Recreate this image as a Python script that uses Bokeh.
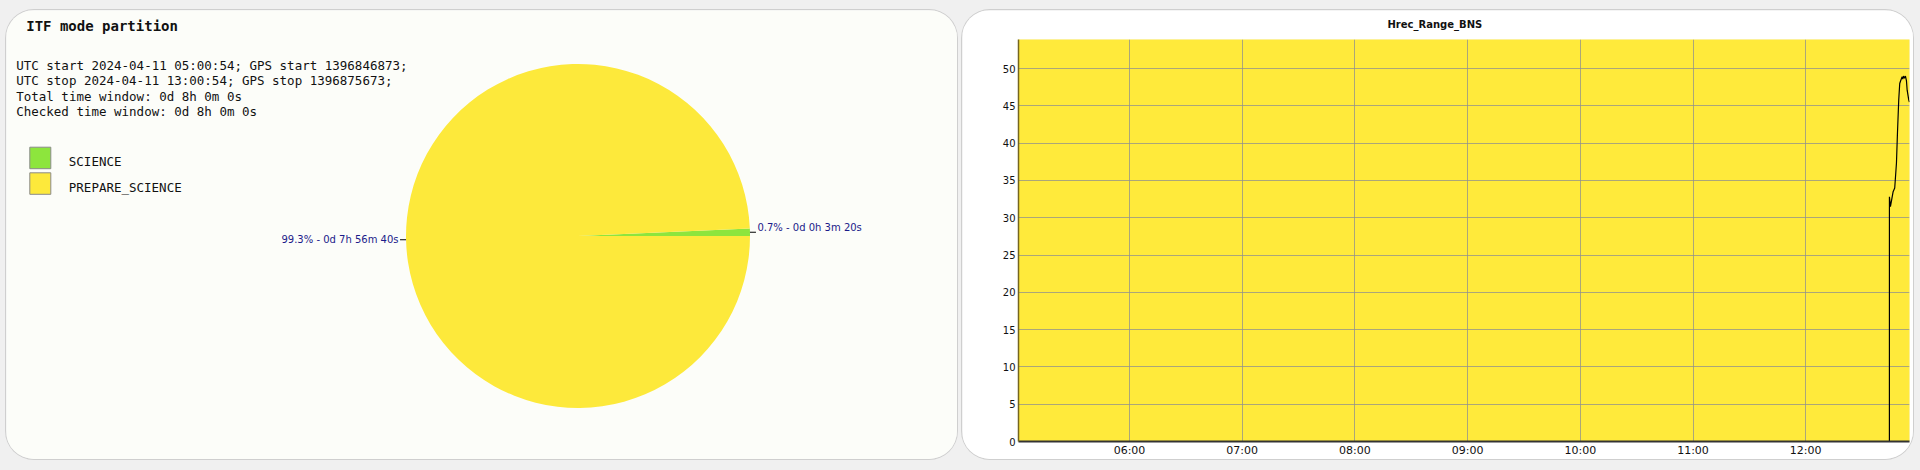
import math
import pandas as pd
from bokeh.plotting import figure
from bokeh.models import (Range1d, FixedTicker, DatetimeTickFormatter, ColumnDataSource,
                          GlobalInlineStyleSheet)
from bokeh.core.properties import value
from bokeh.embed import file_html
from bokeh.resources import INLINE

# ---------------- data ----------------
pie_title = "ITF mode partition"
info_lines = [
    "UTC start 2024-04-11 05:00:54; GPS start 1396846873;",
    "UTC stop 2024-04-11 13:00:54; GPS stop 1396875673;",
    "Total time window: 0d 8h 0m 0s",
    "Checked time window: 0d 8h 0m 0s",
]
mode_names = ["SCIENCE", "PREPARE_SCIENCE"]
mode_seconds = [200, 28600]
mode_colors = ["#8de53d", "#fde93b"]
mode_labels = ["0.7% - 0d 0h 3m 20s", "99.3% - 0d 7h 56m 40s"]

range_title = "Hrec_Range_BNS"
day = "2024-04-11"
x_start = "2024-04-11 05:00:54"
x_end = "2024-04-11 12:55:15"
hrec_times = ["12:44:33", "12:44:34", "12:45:06", "12:46:32", "12:47:23", "12:48:18",
              "12:48:50", "12:49:31", "12:50:03", "12:50:35", "12:51:20", "12:51:39",
              "12:52:02", "12:52:33", "12:53:05", "12:53:37", "12:54:00", "12:54:51",
              "12:55:12"]
hrec_values = [0.0, 32.8, 31.5, 33.5, 34.0, 37.3, 41.3, 45.8, 48.0, 48.4, 48.9, 48.6,
               49.0, 48.7, 49.0, 48.4, 47.1, 45.8, 45.5]
y_ticks = [0, 5, 10, 15, 20, 25, 30, 35, 40, 45, 50]
y_max = 53.9
x_tick_labels = ["06:00", "07:00", "08:00", "09:00", "10:00", "11:00", "12:00"]

# ---------------- page style ----------------
page_css = GlobalInlineStyleSheet(css="""
html, body { background: #f0f0f0 !important; }
body { display: flex !important; flex-direction: row !important;
       align-items: flex-start !important; gap: 5px !important;
       margin: 0 !important; padding: 0 !important; }
""")
PANEL_STYLE = {"border-radius": "28px", "overflow": "hidden",
               "box-shadow": "0 0 0 1px #cfcfcf"}

# ---------------- left panel: pie ----------------
W1, H1 = 951, 449
p1 = figure(width=W1, height=H1, x_range=Range1d(0, W1), y_range=Range1d(-H1, 0),
            output_backend="svg", toolbar_location=None, min_border=0,
            x_axis_location=None, y_axis_location=None, title=None,
            styles=PANEL_STYLE, margin=(10, 0, 0, 6), stylesheets=[page_css])
p1.grid.visible = False
p1.outline_line_color = None
p1.background_fill_color = "#fcfdf9"
p1.border_fill_color = "#fcfdf9"

mono = value("DejaVu Sans Mono")
p1.text(x=[19.7], y=[-15], text=[pie_title], text_font=mono, text_font_size="14px",
        text_font_style="bold", text_baseline="middle", text_color="#111111")
p1.text(x=[9.7] * len(info_lines), y=[-(55 + 15.4 * i) for i in range(len(info_lines))],
        text=info_lines, text_font=mono, text_font_size="12.5px",
        text_baseline="middle", text_color="#111111")

# legend
for i, (name, col) in enumerate(zip(mode_names, mode_colors)):
    top = -(136.7 + 25.6 * i)
    p1.quad(left=[23.3], right=[44.3], top=[top], bottom=[top - 21.5],
            fill_color=col, line_color="#8a8a8a", line_width=1)
    p1.text(x=[62.3], y=[top - 14.5], text=[name], text_font=mono,
            text_font_size="12.5px", text_baseline="middle", text_color="#111111")

# pie
cx, cy, R = 571.5, -225.5, 172.0
total = float(sum(mode_seconds))
starts, ends = [], []
acc = 0.0
for s in mode_seconds:
    starts.append(acc / total * 2 * math.pi)
    acc += s
    ends.append(acc / total * 2 * math.pi)
pie_src = ColumnDataSource(dict(start=starts, end=ends, color=mode_colors))
p1.wedge(x=cx, y=cy, radius=R, radius_units="screen", start_angle="start",
         end_angle="end", fill_color="color", line_color=None, source=pie_src)

for st, en, lab in zip(starts, ends, mode_labels):
    mid = (st + en) / 2
    ex = cx + R * math.cos(mid)
    ey = cy + R * math.sin(mid)
    right = math.cos(mid) >= 0
    d = 6 if right else -6
    p1.line(x=[ex, ex + d], y=[ey, ey], line_color="black", line_width=1)
    if right:
        p1.text(x=[ex + d + 1.5], y=[ey - 1], text=[lab], text_font=value("DejaVu Sans"),
                text_font_size="10px", text_align="left", text_baseline="bottom",
                text_color="#1b1b8a")
    else:
        p1.text(x=[ex + d - 1.5], y=[ey], text=[lab], text_font=value("DejaVu Sans"),
                text_font_size="10px", text_align="right", text_baseline="middle",
                text_color="#1b1b8a")

# ---------------- right panel: time series ----------------
def ms(ts):
    return pd.Timestamp(ts).value / 1e6

tx = [pd.Timestamp(f"{day} {t}") for t in hrec_times]
tick_ms = [ms(f"{day} {lab}:00") for lab in x_tick_labels]

W2, H2 = 951, 449
p2 = figure(width=W2, height=H2, x_axis_type="datetime",
            x_range=Range1d(pd.Timestamp(x_start), pd.Timestamp(x_end)),
            y_range=Range1d(0, y_max), output_backend="svg", toolbar_location=None,
            min_border_left=56, min_border_right=4, min_border_top=29,
            min_border_bottom=17, styles=PANEL_STYLE, margin=(10, 0, 0, 0))
p2.background_fill_color = "#ffea3b"
p2.border_fill_color = "white"
p2.outline_line_color = None

p2.title.text = range_title
p2.title.align = "left"
p2.title.offset = 369
p2.title.vertical_align = "top"
p2.title.standoff = 16
p2.title.text_font = "DejaVu Sans"
p2.title.text_font_size = "10px"
p2.title.text_font_style = "bold"
p2.title.text_color = "#111111"

p2.xaxis.ticker = FixedTicker(ticks=tick_ms)
p2.xaxis.formatter = DatetimeTickFormatter(
    hours="%H:%M", minutes="%H:%M", hourmin="%H:%M", days="%H:%M", minsec="%H:%M",
    seconds="%H:%M", milliseconds="%H:%M", months="%H:%M", years="%H:%M")
p2.yaxis.ticker = FixedTicker(ticks=y_ticks)

for ax in (p2.xaxis[0], p2.yaxis[0]):
    ax.major_tick_line_color = None
    ax.minor_tick_line_color = None
    ax.major_tick_out = 0
    ax.major_tick_in = 0
    ax.minor_tick_out = 0
    ax.minor_tick_in = 0
    ax.major_label_text_font = "DejaVu Sans"
    ax.major_label_text_color = "#111111"
p2.xaxis.major_label_text_font_size = "11px"
p2.yaxis.major_label_text_font_size = "10px"
p2.xaxis.major_label_standoff = 2
p2.yaxis.major_label_standoff = 3
p2.xaxis.axis_line_color = "#333333"
p2.xaxis.axis_line_width = 2
p2.yaxis.axis_line_color = "#75661f"
p2.yaxis.axis_line_width = 1.5

p2.xgrid.grid_line_color = "#8f8f8f"
p2.xgrid.grid_line_alpha = 0.75
p2.ygrid.grid_line_color = "#8f8f8f"
p2.ygrid.grid_line_alpha = 0.75

p2.line(x=tx, y=hrec_values, line_color="black", line_width=1.2)

open("out.html", "w").write(file_html([p1, p2], INLINE))
